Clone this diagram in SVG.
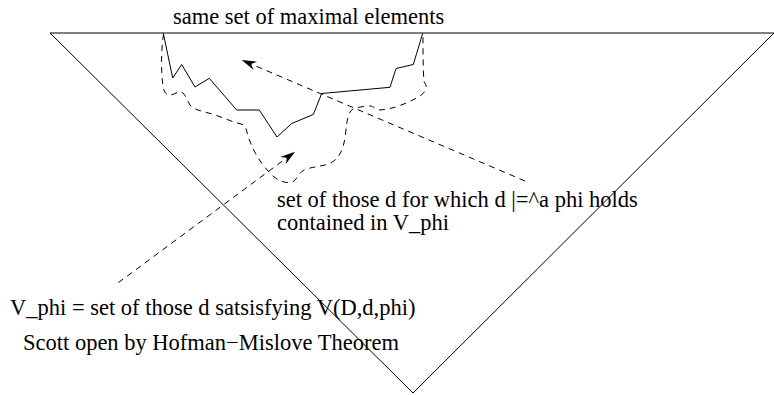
<svg xmlns="http://www.w3.org/2000/svg" width="774" height="395" viewBox="0 0 774 395">
<style>
.t{font-family:"Liberation Serif","Times New Roman",serif;font-size:22.5px;fill:#000}
.s{fill:none;stroke:#000;stroke-width:1}
.d{fill:none;stroke:#000;stroke-width:1;stroke-dasharray:6 5}
</style>
<defs>
<marker id="ah" markerUnits="userSpaceOnUse" viewBox="-15 -6 16 12" refX="0" refY="0" markerWidth="16" markerHeight="12" orient="auto">
<path d="M0,0 L-15,-4.5 L-10,0 L-15,4.5 Z" fill="#000"/>
</marker>
</defs>
<rect width="774" height="395" fill="#fff"/>
<g id="triangle">
<path class="s" d="M50,33 L774,33 L413,393 Z"/>
</g>
<g id="maximal-set">
<polyline class="s" points="163.3,33.3 172.7,78 181.7,64.5 195,87 209.3,78.3 236.7,110 259.3,110 277,137 291.7,123.5 313.3,114.5 321.7,93.5 390,87.3 396,68.5 413.3,64.5 422.7,33.3"/>
</g>
<g id="v-phi-region">
<path class="d" d="M163.5,34 C161,50 161,72 163,86 C164,92 166,95 170,95 C174,95 177,91.5 181,92 C185,93 187,100 190,105 C194,110 202,111 212,114 C222,117 232,122 241,124 C246,125 246,129 248,136 C251,146 258,160 268,171 C275,179 282,183 290,182.5 C297,182 297,174 304,170 C310,167 320,167 330,163.5 C340,158 344,148 345.5,134 C347,120 348,112 353,109 C358,107 366,106 370,106 C374,106 375,110 379,110 C383,110 386,109 392,108 C400,106 412,101 420,96 C426,92 428,86 424,82 C423,70 423,50 423,34"/>
</g>
<g id="connectors">
<line class="d" x1="525" y1="181" x2="241.7" y2="60" marker-end="url(#ah)"/>
<line class="d" x1="118.3" y1="282.7" x2="295" y2="151.7" marker-end="url(#ah)"/>
</g>
<g id="labels">
<text class="t" x="173" y="24">same set of maximal elements</text>
<text class="t" x="277" y="207">set of those d for which d |=^a phi holds</text>
<text class="t" x="277" y="230">contained in V_phi</text>
<text class="t" x="10" y="315">V_phi = set of those d satsisfying V(D,d,phi)</text>
<text class="t" x="23" y="350">Scott open by Hofman−Mislove Theorem</text>
</g>
</svg>
